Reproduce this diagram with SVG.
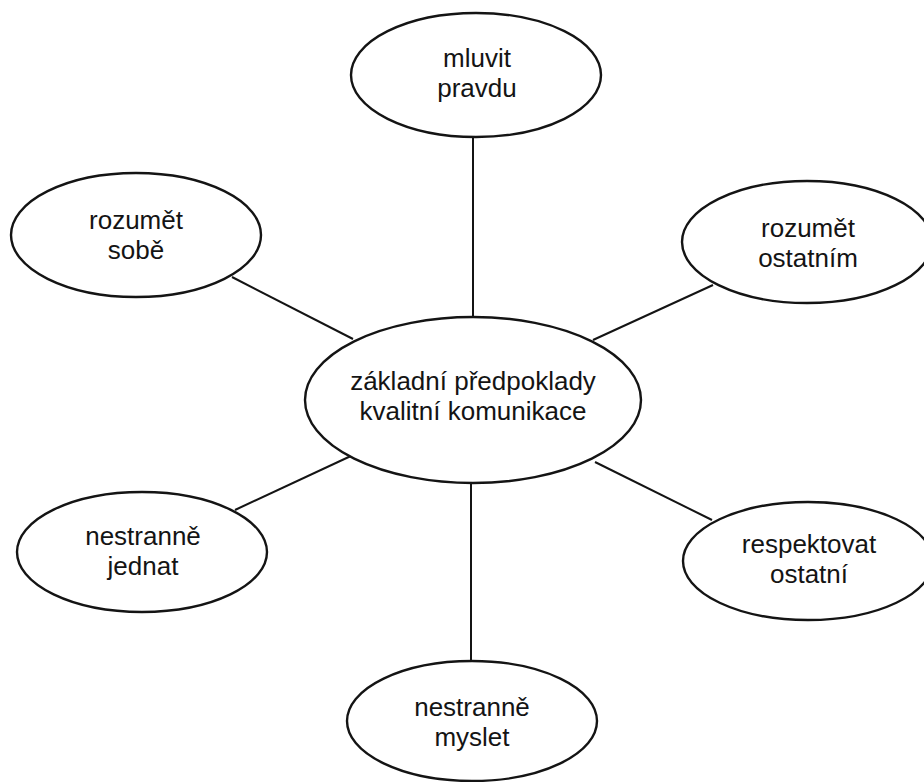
<svg xmlns="http://www.w3.org/2000/svg" width="924" height="782" viewBox="0 0 924 782">
<style>
.n{fill:#fff;stroke:#141414;stroke-width:2.4}
.t{font-family:"Liberation Sans",Arial,Helvetica,sans-serif;font-size:26px;fill:#141414;text-anchor:middle}
.c{stroke:#141414;stroke-width:2;fill:none}
</style>
<rect width="924" height="782" fill="#fff"/>
<g id="connectors">
<line class="c" x1="473" y1="137" x2="473" y2="317"/>
<line class="c" x1="232" y1="277" x2="353" y2="339"/>
<line class="c" x1="713" y1="285" x2="593" y2="340"/>
<line class="c" x1="235" y1="510" x2="353" y2="455"/>
<line class="c" x1="595" y1="462" x2="712" y2="520"/>
<line class="c" x1="471" y1="482" x2="471" y2="661"/>
</g>
<g id="center">
<ellipse class="n" cx="473" cy="400" rx="168" ry="83"/>
<text class="t" x="473" y="390">základní předpoklady</text>
<text class="t" x="473" y="420">kvalitní komunikace</text>
</g>
<g id="mluvit-pravdu">
<ellipse class="n" cx="476" cy="75" rx="125" ry="62"/>
<text class="t" x="477" y="67">mluvit</text>
<text class="t" x="477" y="97">pravdu</text>
</g>
<g id="rozumet-sobe">
<ellipse class="n" cx="136" cy="235" rx="125" ry="62"/>
<text class="t" x="136" y="229">rozumět</text>
<text class="t" x="136" y="259">sobě</text>
</g>
<g id="rozumet-ostatnim">
<ellipse class="n" cx="807" cy="242" rx="125" ry="61"/>
<text class="t" x="808" y="237">rozumět</text>
<text class="t" x="808" y="267">ostatním</text>
</g>
<g id="nestranne-jednat">
<ellipse class="n" cx="142" cy="552" rx="125" ry="60"/>
<text class="t" x="143" y="545">nestranně</text>
<text class="t" x="143" y="575">jednat</text>
</g>
<g id="respektovat-ostatni">
<ellipse class="n" cx="808" cy="561" rx="125" ry="59"/>
<text class="t" x="809" y="553">respektovat</text>
<text class="t" x="809" y="583">ostatní</text>
</g>
<g id="nestranne-myslet">
<ellipse class="n" cx="472" cy="721" rx="125" ry="60"/>
<text class="t" x="472" y="716">nestranně</text>
<text class="t" x="472" y="746">myslet</text>
</g>
</svg>
